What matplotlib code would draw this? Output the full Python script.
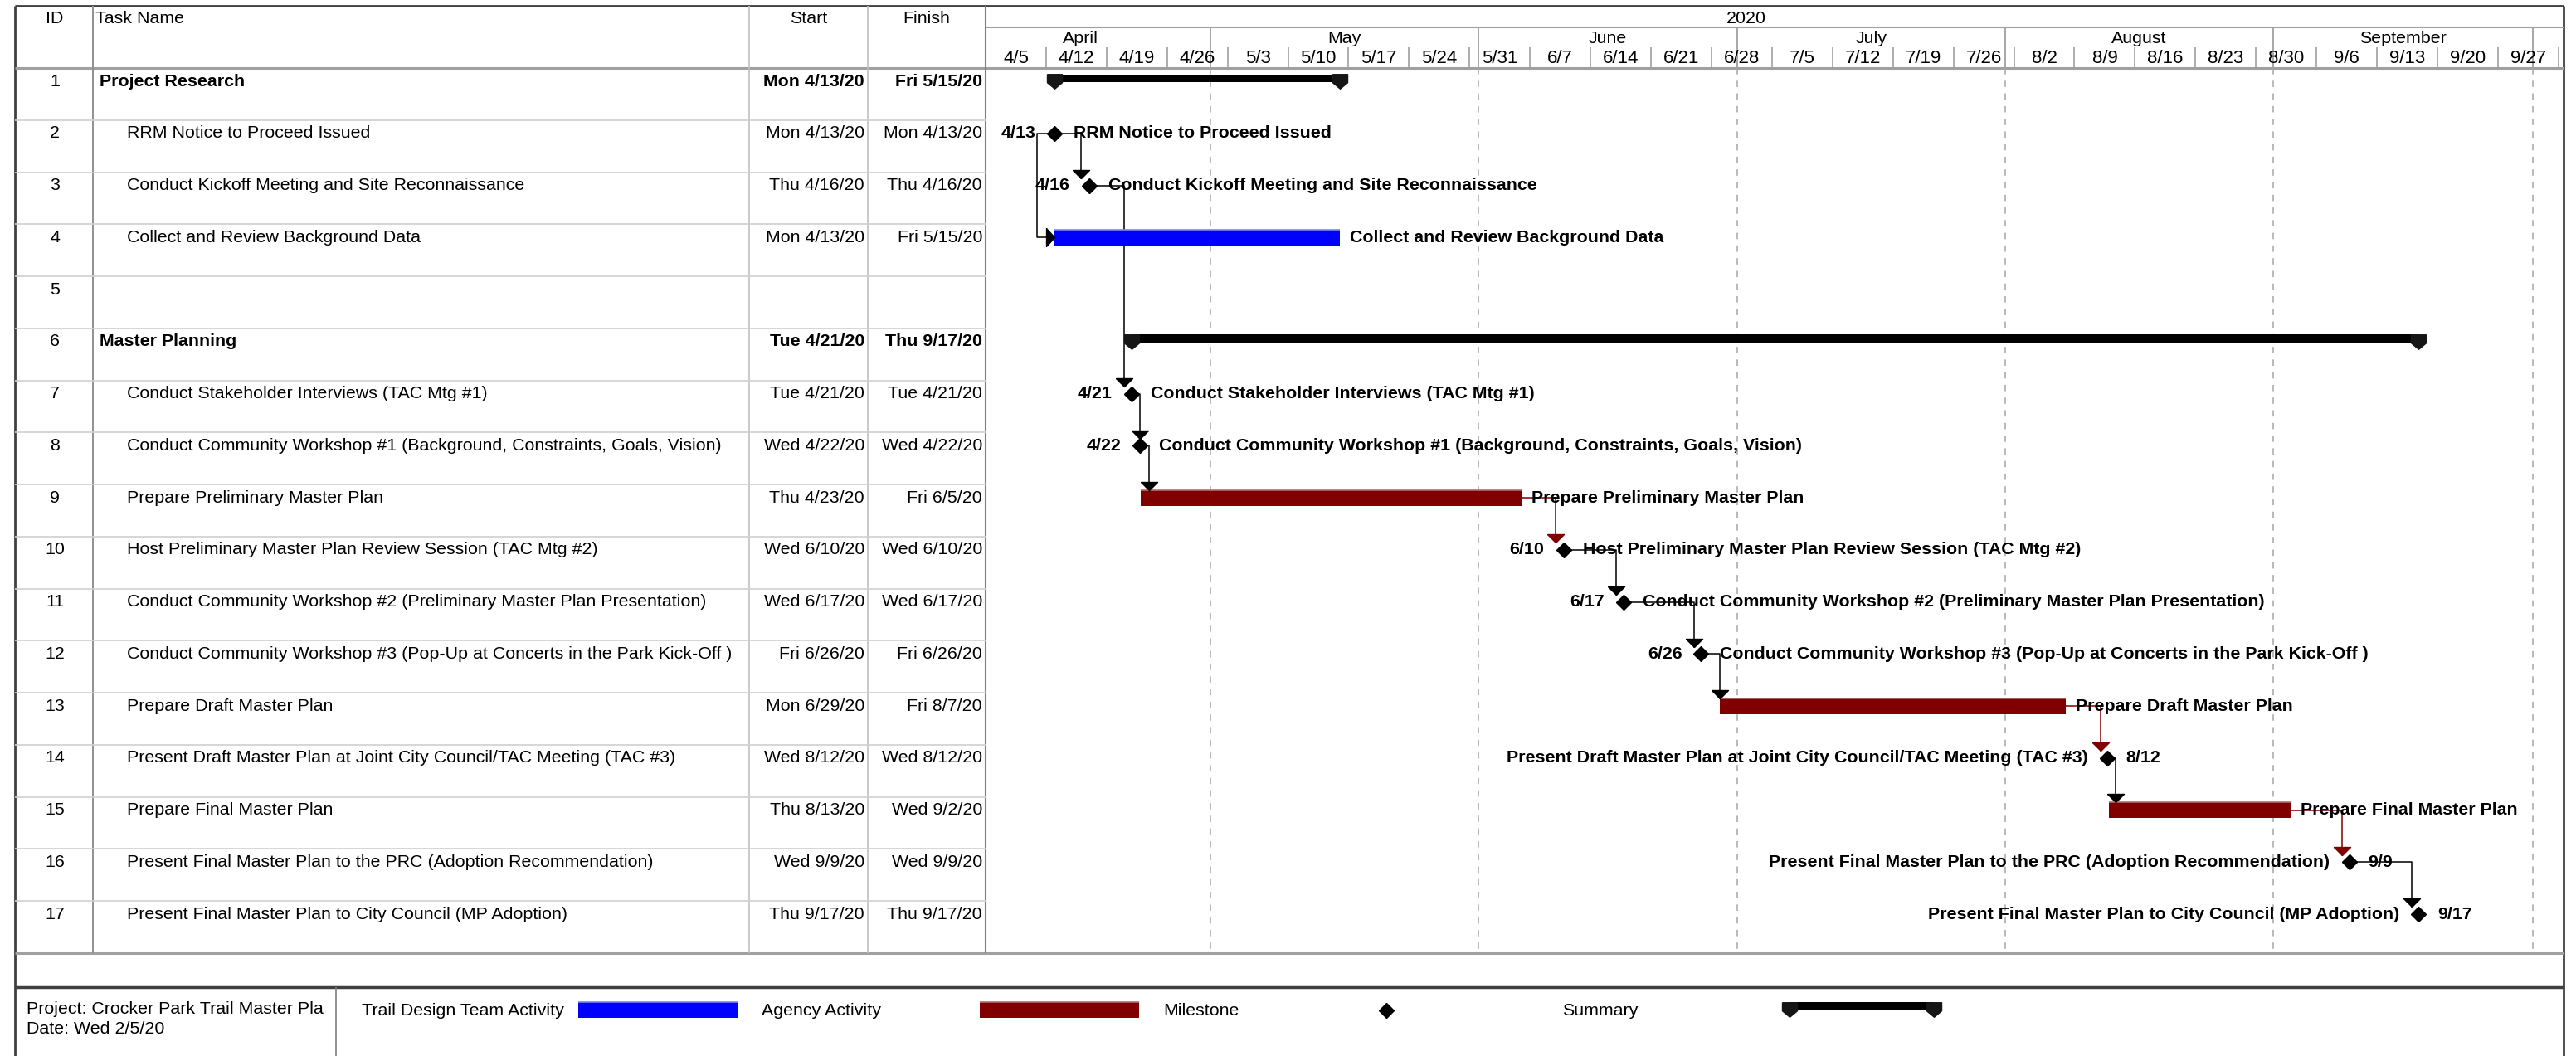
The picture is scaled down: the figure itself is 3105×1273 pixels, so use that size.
import datetime as dt
import numpy as np
import matplotlib
matplotlib.use("Agg")
import matplotlib.pyplot as plt
import matplotlib.dates as mdates
from matplotlib.patches import Rectangle

plt.rcParams['font.family'] = ['Liberation Sans', 'DejaVu Sans']

# ---------------- data ----------------
task_ids = [str(i) for i in range(1, 18)]
task_names = [
    "Project Research",
    "RRM Notice to Proceed Issued",
    "Conduct Kickoff Meeting and Site Reconnaissance",
    "Collect and Review Background Data",
    "",
    "Master Planning",
    "Conduct Stakeholder Interviews (TAC Mtg #1)",
    "Conduct Community Workshop #1 (Background, Constraints, Goals, Vision)",
    "Prepare Preliminary Master Plan",
    "Host Preliminary Master Plan Review Session (TAC Mtg #2)",
    "Conduct Community Workshop #2 (Preliminary Master Plan Presentation)",
    "Conduct Community Workshop #3 (Pop-Up at Concerts in the Park Kick-Off )",
    "Prepare Draft Master Plan",
    "Present Draft Master Plan at Joint City Council/TAC Meeting (TAC #3)",
    "Prepare Final Master Plan",
    "Present Final Master Plan to the PRC (Adoption Recommendation)",
    "Present Final Master Plan to City Council (MP Adoption)",
]
start_txt = ["Mon 4/13/20", "Mon 4/13/20", "Thu 4/16/20", "Mon 4/13/20", "",
             "Tue 4/21/20", "Tue 4/21/20", "Wed 4/22/20", "Thu 4/23/20", "Wed 6/10/20",
             "Wed 6/17/20", "Fri 6/26/20", "Mon 6/29/20", "Wed 8/12/20", "Thu 8/13/20",
             "Wed 9/9/20", "Thu 9/17/20"]
finish_txt = ["Fri 5/15/20", "Mon 4/13/20", "Thu 4/16/20", "Fri 5/15/20", "",
              "Thu 9/17/20", "Tue 4/21/20", "Wed 4/22/20", "Fri 6/5/20", "Wed 6/10/20",
              "Wed 6/17/20", "Fri 6/26/20", "Fri 8/7/20", "Wed 8/12/20", "Wed 9/2/20",
              "Wed 9/9/20", "Thu 9/17/20"]
# summary / milestone / team (blue) / agency (dark red)
kinds = ["summary", "milestone", "milestone", "team", "",
         "summary", "milestone", "milestone", "agency", "milestone",
         "milestone", "milestone", "agency", "milestone", "agency",
         "milestone", "milestone"]
# bar start day / last day, milestone date+time (as drawn); summaries are computed
task_start = ["", "2020-04-13 00:00", "2020-04-16 23:00", "2020-04-13", "",
              "", "2020-04-21 21:00", "2020-04-22 21:00", "2020-04-23", "2020-06-10 21:00",
              "2020-06-17 21:00", "2020-06-26 19:00", "2020-06-29", "2020-08-12 18:00", "2020-08-13",
              "2020-09-09 19:00", "2020-09-17 19:00"]
task_last = ["", "", "", "2020-05-15", "",
             "", "", "", "2020-06-05", "",
             "", "", "2020-08-07", "", "2020-09-02",
             "", ""]
label_left = [14, 16, 17]
links = [(2, 3), (2, 4), (3, 7), (7, 8), (8, 9), (9, 10), (10, 11), (11, 12),
         (12, 13), (13, 14), (14, 15), (15, 16), (16, 17)]

month_names = ["April", "May", "June", "July", "August", "September"]
view_start = "2020-04-05"
view_days = 182.6

colors = {"team": "#0000ff", "agency": "#800000", "summary": "#000000"}
edge_light = {"team": "#8080ff", "agency": "#b07070"}

# ---------------- layout ----------------
W, H = 3105, 1273
fig = plt.figure(figsize=(W / 100, H / 100), dpi=100)


def px_axes(x0, y0, x1, y1):
    a = fig.add_axes([x0 / W, 1 - y1 / H, (x1 - x0) / W, (y1 - y0) / H])
    a.set_axis_off()
    a.patch.set_alpha(0)
    return a


def dnum(s):
    return mdates.date2num(dt.datetime.fromisoformat(s))


frame = px_axes(0, 0, W, H)
frame.set_xlim(0, W)
frame.set_ylim(H, 0)

LEFT, RIGHT, TOP = 18, 3090, 7
HEAD_B, ROWS_B, FOOT_T = 82, 1149, 1190
CHART_L = 1188
col_lines = [903, 1046]
FS = 15.4
n_rows = len(task_ids)

# borders and main lines
frame.hlines(TOP, LEFT, RIGHT, color="#404040", lw=2)
frame.vlines([LEFT, RIGHT], TOP, H, color="#404040", lw=2)
frame.hlines([HEAD_B, ROWS_B], LEFT, RIGHT, color="#a0a0a0", lw=2.2)
frame.hlines(FOOT_T, LEFT, RIGHT, color="#404040", lw=2.5)
frame.vlines(405, FOOT_T, H, color="#808080", lw=1.2)
frame.vlines(112, TOP, ROWS_B, color="#909090", lw=1.4)
frame.vlines(col_lines, TOP, ROWS_B, color="#c0c0c0", lw=1.2)
frame.vlines(CHART_L, TOP, ROWS_B, color="#808080", lw=1.5)

# table header
frame.text(66, 23, "ID", ha="center", va="center", fontsize=FS)
frame.text(115, 23, "Task Name", ha="left", va="center", fontsize=FS)
frame.text(975, 23, "Start", ha="center", va="center", fontsize=FS)
frame.text(1117, 23, "Finish", ha="center", va="center", fontsize=FS)

# ---------------- table rows ----------------
tab = px_axes(0, HEAD_B, CHART_L, ROWS_B)
tab.set_xlim(0, CHART_L)
tab.set_ylim(n_rows, 0)
tab.hlines(np.arange(1, n_rows), LEFT, CHART_L, color="#d0d0d0", lw=1.2)
ROW_C = 0.255
for i in range(n_rows):
    y = i + ROW_C
    bold = "bold" if kinds[i] == "summary" else "normal"
    tab.text(66, y, task_ids[i], ha="center", va="center", fontsize=FS)
    tx = 120 if kinds[i] == "summary" else 153
    tab.text(tx, y, task_names[i], ha="left", va="center", fontsize=FS, fontweight=bold)
    tab.text(1042, y, start_txt[i], ha="right", va="center", fontsize=FS, fontweight=bold)
    tab.text(1184, y, finish_txt[i], ha="right", va="center", fontsize=FS, fontweight=bold)

# ---------------- timescale header ----------------
d0 = dnum(view_start)
d1 = d0 + view_days
hd = px_axes(CHART_L, TOP, RIGHT, HEAD_B)
hd.set_xlim(d0, d1)
hd.set_ylim(HEAD_B, TOP)
month_starts = [dnum("2020-%02d-01" % m) for m in range(4, 11)]
week_starts = [d0 + 7 * k for k in range(0, 27)]
hd.hlines(33, d0, d1, color="#a0a0a0", lw=1.5)
hd.vlines(month_starts[1:], 33, HEAD_B, color="#a0a0a0", lw=1.3)
hd.vlines(week_starts[1:], 57, HEAD_B, color="#a0a0a0", lw=1.2)
year_mid = (dnum("2020-01-01") + dnum("2021-01-01")) / 2
hd.text(year_mid, 22, "2020", ha="center", va="center", fontsize=FS)
for k, name in enumerate(month_names):
    hd.text((month_starts[k] + month_starts[k + 1]) / 2, 47, name,
            ha="center", va="center", fontsize=FS)
for w in week_starts[:-1]:
    d = mdates.num2date(w)
    hd.text(w + 3.5, 71, "%d/%d" % (d.month, d.day), ha="center", va="center",
            fontsize=FS + 0.6, clip_on=True)

# ---------------- gantt ----------------
ax = px_axes(CHART_L, HEAD_B, RIGHT, ROWS_B)
ax.set_xlim(d0, d1)
ax.set_ylim(n_rows, 0)
ax.vlines(month_starts[1:], 0, n_rows, color="#a6a6a6", lw=1.1,
          linestyle=(0, (5, 5)), zorder=0)

# start / end of each task in date numbers
x0 = [np.nan] * n_rows
x1 = [np.nan] * n_rows
for i in range(n_rows):
    if kinds[i] == "milestone":
        x0[i] = x1[i] = dnum(task_start[i])
    elif kinds[i] in ("team", "agency"):
        x0[i] = dnum(task_start[i])
        x1[i] = dnum(task_last[i]) + 1
for i in range(n_rows):
    if kinds[i] == "summary":
        kids = []
        for j in range(i + 1, n_rows):
            if kinds[j] == "summary":
                break
            if kinds[j]:
                kids.append(j)
        x0[i] = min(x0[j] for j in kids)
        x1[i] = max(x1[j] for j in kids)

BAR_H = 0.30
DIA_H = 0.14
DIA_MS = 9.2
cap_marker = [(-9, 8.75), (9, 8.75), (9, -1.25), (0, -8.75), (-9, -1.25), (-9, 8.75)]
down_arrow = [(-10, 10), (10, 10), (0, 0), (-10, 10)]
right_arrow = [(-10, 11), (-10, -11), (0, 0), (-10, 11)]


def draw_summary(a, xa, xb, yc, body_h, cap_y, ms):
    a.add_patch(Rectangle((xa, yc - body_h / 2), xb - xa, body_h,
                          facecolor="black", edgecolor="none", zorder=3))
    a.plot([xa, xb], [cap_y, cap_y], linestyle="none", marker=cap_marker,
           ms=ms, color="#151515", zorder=4)


for i in range(n_rows):
    y = i + ROW_C
    k = kinds[i]
    if k in ("team", "agency"):
        ax.barh(y, x1[i] - x0[i], left=x0[i], height=BAR_H, color=colors[k], zorder=3)
        ax.hlines(y - BAR_H / 2, x0[i], x1[i], color=edge_light[k], lw=1.2, zorder=3)
        ax.annotate(task_names[i], (x1[i], y), xytext=(12, 0), textcoords="offset pixels",
                    ha="left", va="center", fontsize=FS, fontweight="bold", zorder=5)
    elif k == "summary":
        draw_summary(ax, x0[i], x1[i], i + 0.195, 0.15, i + 0.26, 12.96)
    elif k == "milestone":
        ax.plot(x0[i], y, marker="D", ms=DIA_MS, color="black", zorder=4)
        date_lbl = finish_txt[i].split()[1].rsplit("/", 1)[0]
        if (i + 1) in label_left:
            left_txt, right_txt = task_names[i], date_lbl
        else:
            left_txt, right_txt = date_lbl, task_names[i]
        ax.annotate(left_txt, (x0[i], y), xytext=(-23, 0), textcoords="offset pixels",
                    ha="right", va="center", fontsize=FS, fontweight="bold", zorder=5)
        ax.annotate(right_txt, (x0[i], y), xytext=(23, 0), textcoords="offset pixels",
                    ha="left", va="center", fontsize=FS, fontweight="bold", zorder=5)

# dependency connectors
for p, s in links:
    pi, si = p - 1, s - 1
    col = colors["agency"] if kinds[pi] == "agency" else "black"
    px_, py = x1[pi], pi + ROW_C
    sy = si + ROW_C
    if kinds[si] == "milestone":
        s_day = np.floor(x0[si])
        top = sy - DIA_H
    else:
        s_day = x0[si]
        top = sy - BAR_H / 2
    if s_day > px_:
        vx = max(s_day, px_ + 1)
        ax.plot([px_, vx, vx], [py, py, top], color=col, lw=1.1, zorder=2)
        ax.plot(vx, top, marker=down_arrow, ms=14.4, color=col, zorder=4)
    else:
        lx = s_day - 2
        ax.plot([px_, lx, lx, s_day], [py, py, sy, sy], color=col, lw=1.1, zorder=2)
        ax.plot(s_day, sy, marker=right_arrow, ms=15.8, color=col, zorder=4)

# ---------------- footer / legend ----------------
frame.text(32, 1217, "Project: Crocker Park Trail Master Pla", ha="left", va="center", fontsize=FS)
frame.text(32, 1240, "Date: Wed 2/5/20", ha="left", va="center", fontsize=FS)
frame.text(436, 1218, "Trail Design Team Activity", ha="left", va="center", fontsize=FS)
frame.add_patch(Rectangle((697, 1208), 193, 19, facecolor=colors["team"], edgecolor="none"))
frame.hlines(1208, 697, 890, color=edge_light["team"], lw=1.2)
frame.text(918, 1218, "Agency Activity", ha="left", va="center", fontsize=FS)
frame.add_patch(Rectangle((1181, 1208), 192, 19, facecolor=colors["agency"], edgecolor="none"))
frame.hlines(1208, 1181, 1373, color=edge_light["agency"], lw=1.2)
frame.text(1402, 1218, "Milestone", ha="left", va="center", fontsize=FS)
frame.plot(1671, 1218, marker="D", ms=DIA_MS, color="black")
frame.text(1883, 1218, "Summary", ha="left", va="center", fontsize=FS)
draw_summary(frame, 2157, 2331, 1212.5, 9, 1217, 12.96)

fig.savefig("out.png", dpi=100)
